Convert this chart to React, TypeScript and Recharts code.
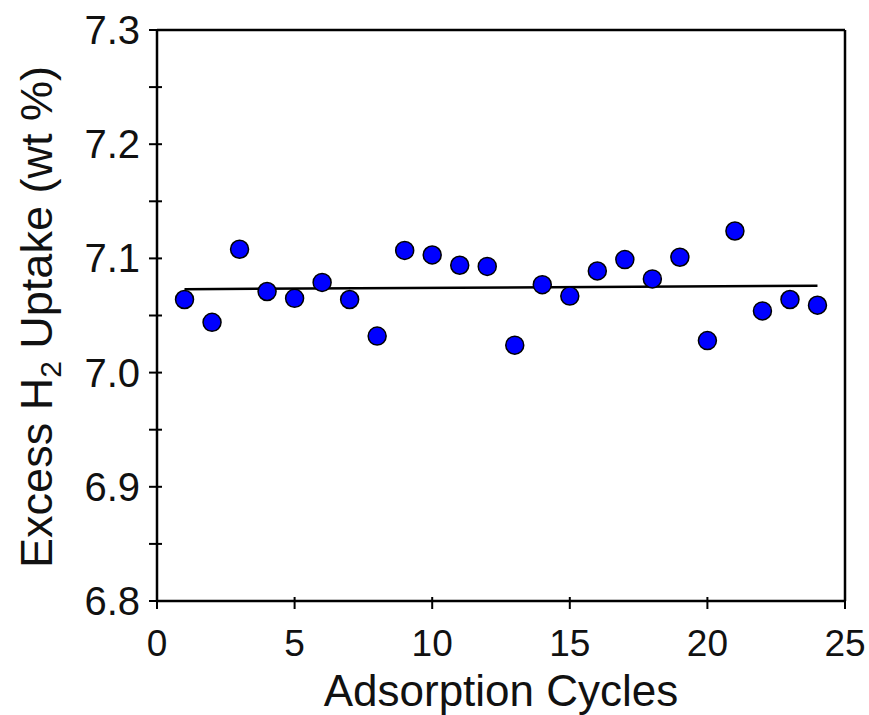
import React from "react"

import {
	ComposedChart,
	Line,
	ReferenceLine,
	Scatter,
	XAxis,
	YAxis
} from "recharts"

// cycle number and measured uptake (wt %)
const cycles = [
	1, 2, 3, 4, 5, 6, 7, 8, 9, 10, 11, 12, 13, 14, 15, 16, 17, 18, 19, 20, 21,
	22, 23, 24
]
const uptake = [
	7.064, 7.044, 7.108, 7.071, 7.065, 7.079, 7.064, 7.032, 7.107, 7.103, 7.094,
	7.093, 7.024, 7.077, 7.067, 7.089, 7.099, 7.082, 7.101, 7.028, 7.124, 7.054,
	7.064, 7.059
]

// fitted line end points
const fitX = [1, 24]
const fitY = [7.073, 7.076]

const xTicks = [0, 5, 10, 15, 20, 25]
const yTicks = [6.8, 6.85, 6.9, 6.95, 7.0, 7.05, 7.1, 7.15, 7.2, 7.25, 7.3]

const points = cycles.map((c, i) => ({ x: c, y: uptake[i] }))
const fit = fitX.map((x, i) => ({ x, y: fitY[i] }))

const FONT = "'Liberation Sans', Arial, sans-serif"

// eslint-disable-next-line @typescript-eslint/no-explicit-any
const YTick = (props: any) => {
	const { x, y, payload } = props
	const major = Math.round(payload.value * 100) % 10 === 0
	return (
		<g>
			<line x1={x} y1={y} x2={x + 13} y2={y} stroke="#000" strokeWidth={2} />
			{major && (
				<text
					x={x - 9}
					y={y}
					dy={14}
					textAnchor="end"
					fontSize={40}
					fontFamily={FONT}
					fill="#111"
				>
					{payload.value.toFixed(1)}
				</text>
			)}
		</g>
	)
}

// eslint-disable-next-line @typescript-eslint/no-explicit-any
const XTick = (props: any) => {
	const { x, y, payload } = props
	return (
		<g>
			<line x1={x} y1={y - 12} x2={x} y2={y} stroke="#000" strokeWidth={2} />
			<text
				x={x}
				y={656}
				textAnchor="middle"
				fontSize={37}
				fontFamily={FONT}
				fill="#111"
			>
				{payload.value}
			</text>
		</g>
	)
}

const YLabel = () => (
	<text
		transform="rotate(-90, 52, 317)"
		x={52}
		y={317}
		textAnchor="middle"
		fontSize={45}
		fontFamily={FONT}
		fill="#111"
	>
		Excess H
		<tspan dy={9} fontSize={30}>
			2
		</tspan>
		<tspan dy={-9}> Uptake (wt %)</tspan>
	</text>
)

const XLabel = () => (
	<text
		x={501}
		y={706}
		textAnchor="middle"
		fontSize={44}
		fontFamily={FONT}
		fill="#111"
	>
		Adsorption Cycles
	</text>
)

const App = () => {
	return (
		<div style={{ position: "fixed", top: 0, left: 0, background: "#fff" }}>
			<ComposedChart
				width={869}
				height={715}
				margin={{ top: 30, right: 24, left: 0, bottom: 0 }}
			>
				<XAxis
					dataKey="x"
					type="number"
					domain={[0, 25]}
					ticks={xTicks}
					height={114}
					axisLine={{ stroke: "#000", strokeWidth: 2.5 }}
					tickLine={false}
					tick={<XTick />}
					label={<XLabel />}
					allowDataOverflow
				/>
				<YAxis
					dataKey="y"
					type="number"
					domain={[6.8, 7.3]}
					ticks={yTicks}
					width={157}
					interval={0}
					axisLine={{ stroke: "#000", strokeWidth: 2.5 }}
					tickLine={false}
					tick={<YTick />}
					label={<YLabel />}
					allowDataOverflow
				/>
				<ReferenceLine y={7.3} stroke="#000" strokeWidth={2.5} />
				<ReferenceLine x={25} stroke="#000" strokeWidth={2.5} />
				<Line
					data={fit}
					dataKey="y"
					type="linear"
					stroke="#000"
					strokeWidth={2.5}
					dot={false}
					isAnimationActive={false}
				/>
				<Scatter
					data={points}
					dataKey="y"
					fill="#0000ff"
					stroke="#000"
					strokeWidth={1.5}
					shape={(p: any) => (
						<circle
							cx={p.cx}
							cy={p.cy}
							r={9}
							fill="#0000ff"
							stroke="#000"
							strokeWidth={1.5}
						/>
					)}
					isAnimationActive={false}
				/>
			</ComposedChart>
		</div>
	)
}

export default App
